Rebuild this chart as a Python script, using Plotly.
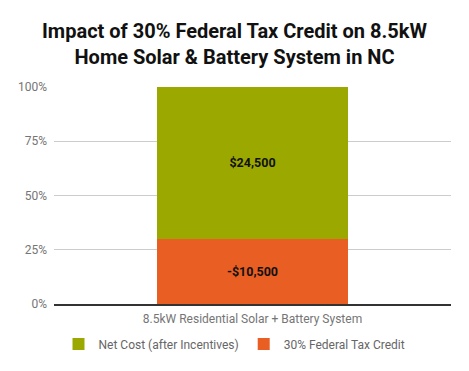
import plotly.graph_objects as go

categories = ["8.5kW Residential Solar + Battery System"]
series_names = ["30% Federal Tax Credit", "Net Cost (after Incentives)"]
tax_credit = [-10500]
net_cost = [24500]
tick_vals = [0, 25, 50, 75, 100]
tick_text = ["0%", "25%", "50%", "75%", "100%"]

colors = {"30% Federal Tax Credit": "#E95E23", "Net Cost (after Incentives)": "#9BA800"}

def money(v):
    return ("-$" if v < 0 else "$") + f"{abs(v):,}"

fig = go.Figure()
for name, vals in [(series_names[0], tax_credit), (series_names[1], net_cost)]:
    fig.add_trace(go.Bar(
        x=categories, y=[abs(v) for v in vals], name=name,
        marker=dict(color=colors[name], line=dict(width=0)),
        text=[money(v) for v in vals], textposition="inside", insidetextanchor="middle",
        textfont=dict(family="Roboto", size=12.5, color="#111111", weight="bold"),
        hoverinfo="skip",
    ))

fig.update_layout(
    barmode="stack", barnorm="percent", bargap=0.52,
    width=469, height=371,
    margin=dict(l=54, r=18, t=87, b=67, autoexpand=False),
    paper_bgcolor="white", plot_bgcolor="white",
    font=dict(family="Roboto", color="#666666", size=12),
    title=dict(text="Impact of 30% Federal Tax Credit on 8.5kW<br>Home Solar & Battery System in NC",
               font=dict(family="Roboto", size=20, color="#111111", weight="bold"),
               x=0.5, xanchor="center", y=0.8976, yanchor="top", yref="container"),
    showlegend=True,
    legend=dict(orientation="h", xref="container", x=0.5, xanchor="center",
                y=-0.184, yanchor="middle",
                traceorder="reversed", itemwidth=30,
                font=dict(size=12, color="#666666")),
    uniformtext=dict(minsize=8, mode="show"),
)
fig.update_yaxes(range=[0, 100], tickvals=tick_vals, ticktext=tick_text,
                 showgrid=True, gridcolor="#cccccc", zeroline=False,
                 showline=False, ticks="", ticklabelstandoff=6, automargin=False,
                 tickfont=dict(size=12, color="#757575"))
fig.update_xaxes(showline=True, linecolor="#333333", linewidth=1.5, ticks="",
                 ticklabelstandoff=3, automargin=False,
                 tickfont=dict(size=12, color="#757575"))
fig.write_html("out.html", config={"displayModeBar": False},
               post_script="document.body.style.margin='0';")
